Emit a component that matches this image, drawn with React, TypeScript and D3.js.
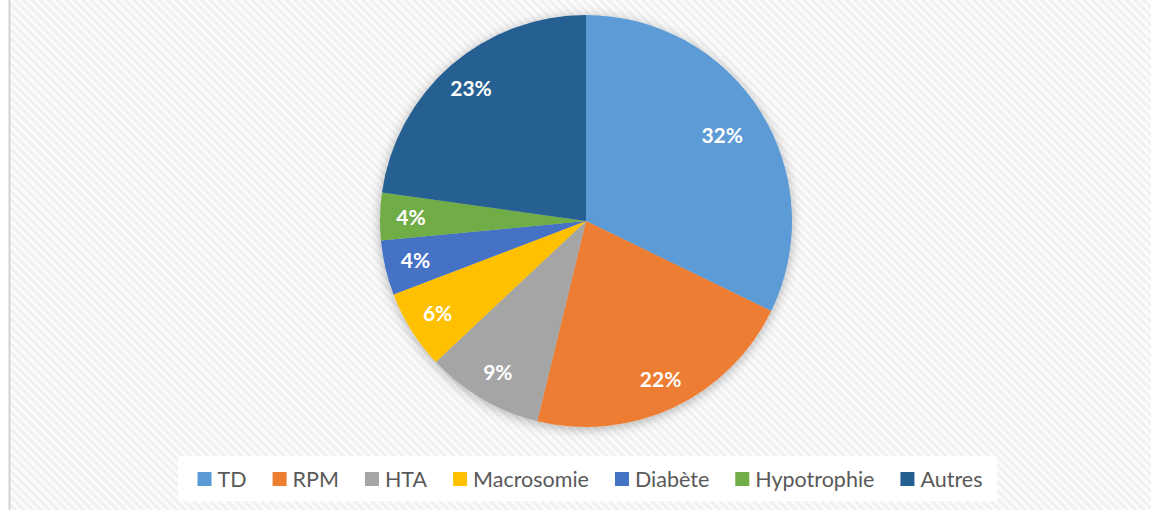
import React, { useEffect, useRef } from "react";
import * as d3 from "d3";

// causes, in percent
const categories = ["TD", "RPM", "HTA", "Macrosomie", "Diabète", "Hypotrophie", "Autres"];
const values = [32.2, 21.6, 9.2, 6.2, 4.3, 3.7, 22.8];
const colors = ["#5b9bd5", "#ed7d31", "#a5a5a5", "#ffc000", "#4472c4", "#70ad47", "#255e91"];

const W = 1151;
const H = 510;

export default function App() {
  const ref = useRef<SVGSVGElement>(null);

  useEffect(() => {
    const svg = d3.select(ref.current);
    svg.selectAll("*").remove();

    const defs = svg.append("defs");
    const pat = defs
      .append("pattern")
      .attr("id", "hatch")
      .attr("width", 6)
      .attr("height", 6)
      .attr("patternUnits", "userSpaceOnUse")
      .attr("patternTransform", "rotate(45)");
    pat.append("rect").attr("width", 6).attr("height", 6).attr("fill", "#fcfcfc");
    pat.append("rect").attr("width", 6).attr("height", 3).attr("fill", "#f1f1f1");

    const f = defs.append("filter").attr("id", "shadow").attr("x", "-20%").attr("y", "-20%").attr("width", "140%").attr("height", "140%");
    f.append("feDropShadow")
      .attr("dx", 0)
      .attr("dy", 2)
      .attr("stdDeviation", 6)
      .attr("flood-color", "#000")
      .attr("flood-opacity", 0.3);

    // background
    svg.append("rect").attr("x", 0).attr("y", 0).attr("width", W).attr("height", H).attr("fill", "#fff");
    svg.append("rect").attr("x", 10).attr("y", 0).attr("width", W - 10).attr("height", H).attr("fill", "url(#hatch)");
    svg.append("line").attr("x1", 9.5).attr("x2", 9.5).attr("y1", 0).attr("y2", H).attr("stroke", "#d4d4d4").attr("stroke-width", 2);

    const cx = 586;
    const cy = 221;
    const r = 206;

    const pie = d3.pie<number>().sort(null).value((d) => d);
    const arcs = pie(values);
    const arc = d3.arc<d3.PieArcDatum<number>>().innerRadius(0).outerRadius(r);
    // big slices get their label a bit further in
    const labelR = (d: d3.PieArcDatum<number>) => (d.data > 30 ? r * 0.78 : r * 0.85);

    const g = svg.append("g").attr("transform", `translate(${cx},${cy})`);
    g.append("g")
      .attr("filter", "url(#shadow)")
      .selectAll("path")
      .data(arcs)
      .join("path")
      .attr("d", arc)
      .attr("fill", (_, i) => colors[i]);

    g.selectAll("text")
      .data(arcs)
      .join("text")
      .attr("transform", (d) => {
        const a = (d.startAngle + d.endAngle) / 2;
        const rr = labelR(d);
        return `translate(${Math.sin(a) * rr},${-Math.cos(a) * rr})`;
      })
      .attr("text-anchor", "middle")
      .attr("dy", "0.36em")
      .attr("fill", "#fff")
      .attr("font-family", "Lato, 'Open Sans', sans-serif")
      .attr("font-weight", "bold")
      .attr("font-size", 21)
      .text((d) => `${Math.round(d.data)}%`);

    // legend
    const lg = svg.append("g");
    const box = lg.append("rect").attr("fill", "#fff");
    const sw = 14;
    const gapText = 6;
    const gapItem = 26;
    const items = lg
      .selectAll("g")
      .data(categories)
      .join("g");
    items.append("rect").attr("width", sw).attr("height", sw).attr("y", -sw / 2).attr("fill", (_, i) => colors[i]);
    items
      .append("text")
      .attr("x", sw + gapText)
      .attr("dy", "0.36em")
      .attr("fill", "#595959")
      .attr("font-family", "Lato, 'Open Sans', sans-serif")
      .attr("font-size", 21.5)
      .text((d) => d);

    const widths: number[] = [];
    items.each(function () {
      const t = d3.select(this).select<SVGTextElement>("text").node();
      widths.push(sw + gapText + (t ? t.getComputedTextLength() : 40));
    });
    const total = d3.sum(widths) + gapItem * (widths.length - 1);
    const ly = 479;
    let x = 590 - total / 2;
    items.attr("transform", (_, i) => {
      const tx = x;
      x += widths[i] + gapItem;
      return `translate(${tx},${ly})`;
    });
    box.attr("x", 178).attr("y", 456).attr("width", 819).attr("height", 45);
  }, []);

  return (
    <svg
      ref={ref}
      width={W}
      height={H}
      style={{ position: "absolute", left: 0, top: 0, display: "block" }}
    />
  );
}
